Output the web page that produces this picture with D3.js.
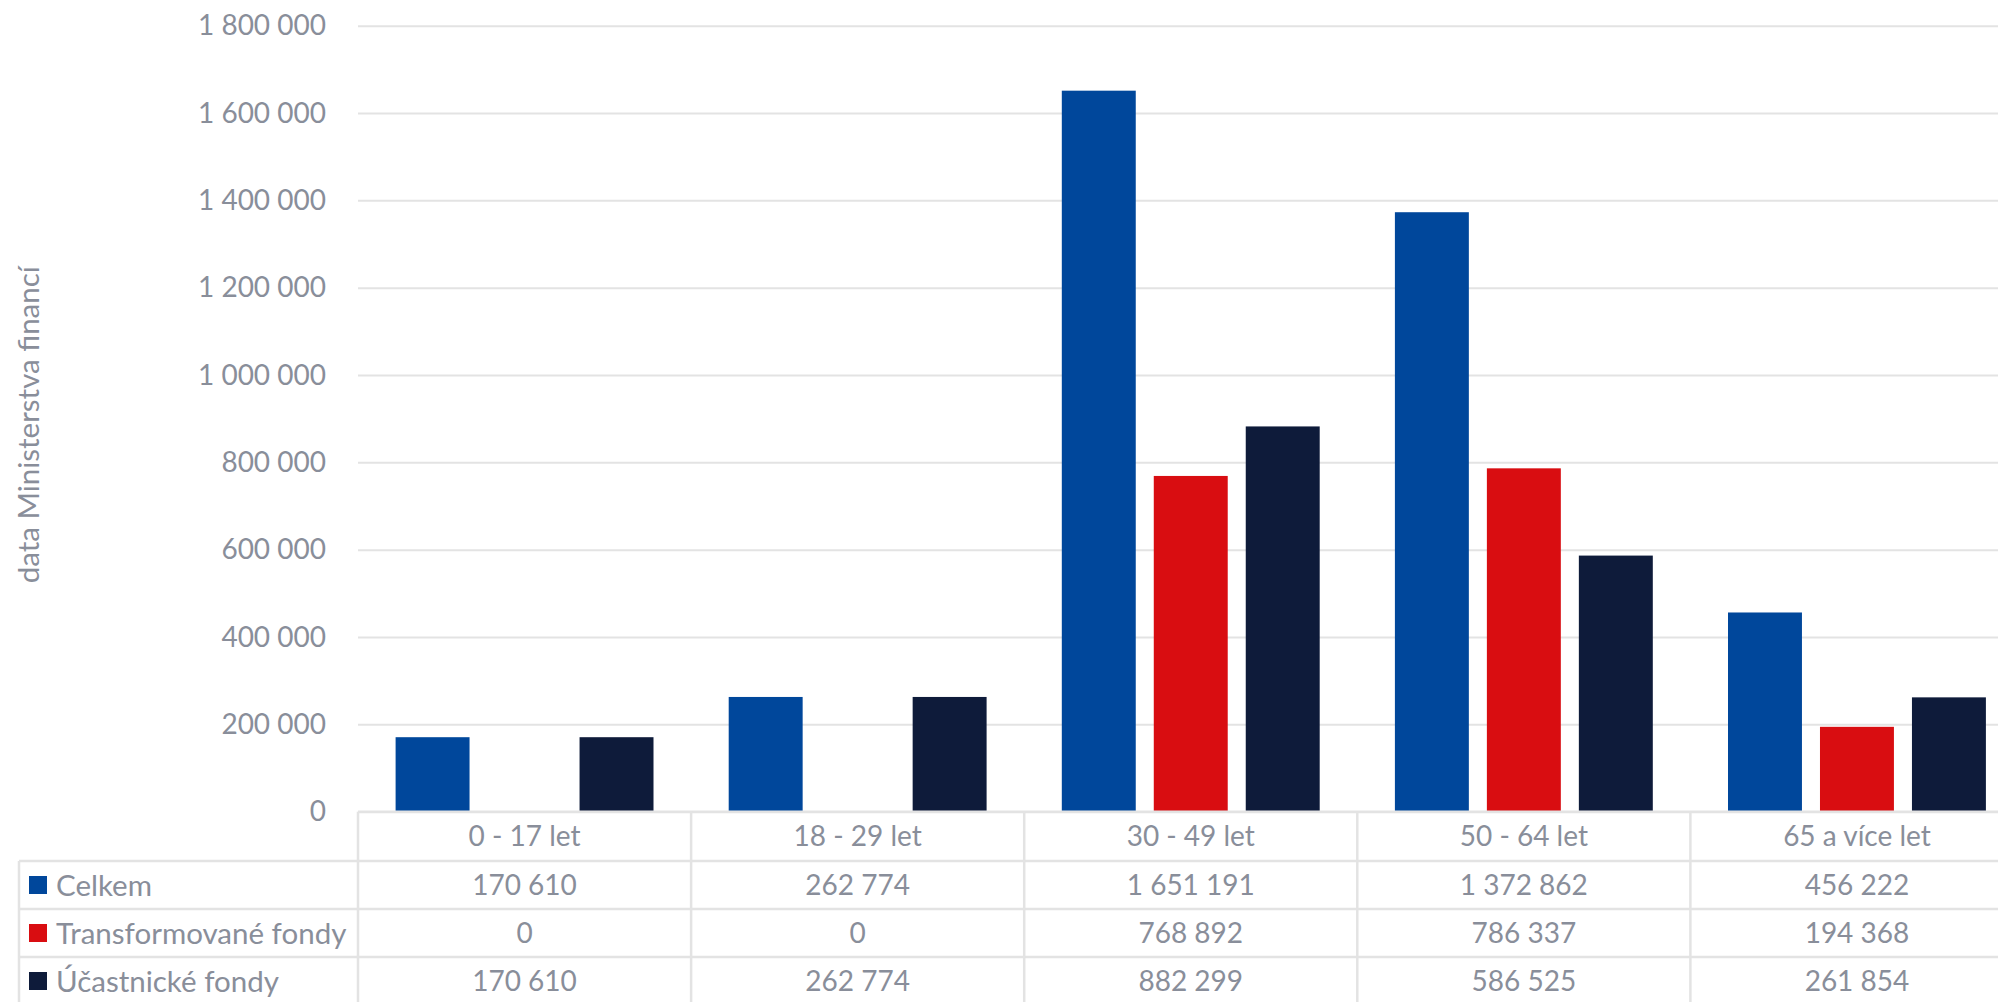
<!DOCTYPE html>
<html>
<head>
<meta charset="utf-8">
<script src="https://d3js.org/d3.v7.min.js"></script>
<style>
  body { margin: 0; background: #fff; }
  text { font-family: Lato, "Open Sans", sans-serif; fill: #898e9a; }
</style>
</head>
<body>
<div id="output"></div>
<script>
    var width = 1998;
    var height = 1002;

    var categories = ['0 - 17 let', '18 - 29 let', '30 - 49 let', '50 - 64 let', '65 a více let'];
    var seriesNames = ['Celkem', 'Transformované fondy', 'Účastnické fondy'];
    var seriesColors = ['#00479b', '#d90d11', '#0e1b3a'];
    var celkem = [170610, 262774, 1651191, 1372862, 456222];
    var transformovane = [0, 0, 768892, 786337, 194368];
    var ucastnicke = [170610, 262774, 882299, 586525, 261854];
    var yTicks = [0, 200000, 400000, 600000, 800000, 1000000, 1200000, 1400000, 1600000, 1800000];
    var yTitle = 'data Ministerstva financí';

    var series = [celkem, transformovane, ucastnicke];

    var plotLeft = 358;
    var plotTop = 25.7;
    var plotBottom = 811.7;
    var colWidth = 333.1;
    var rowH = 48;
    var tableLeft = 19;
    var gridColor = '#e3e3e3';

    var fmt = function(v) { return d3.format(',')(v).replace(/,/g, ' '); };

    var svg = d3.select('#output').append('svg')
        .attr('width', width)
        .attr('height', height);

    var x0 = d3.scaleBand()
        .domain(categories)
        .range([plotLeft, plotLeft + colWidth * categories.length]);

    var x1 = d3.scaleBand()
        .domain(d3.range(seriesNames.length))
        .range([37.6, colWidth - 37.6])
        .paddingInner(0.196);

    var y = d3.scaleLinear()
        .domain([0, 1800000])
        .range([plotBottom, plotTop]);

    // gridlines + tick labels
    var yAxis = svg.append('g')
        .attr('transform', 'translate(' + plotLeft + ',0)')
        .call(d3.axisLeft(y).tickValues(yTicks).tickFormat(fmt)
            .tickSize(-(width - plotLeft)).tickPadding(32));
    yAxis.select('.domain').remove();
    yAxis.selectAll('line').attr('stroke', gridColor).attr('stroke-width', 2);
    yAxis.selectAll('text')
        .style('font-size', '28px')
        .style('font-family', 'Lato, sans-serif')
        .attr('fill', '#898e9a');

    svg.append('text')
        .attr('transform', 'translate(29,' + ((plotTop + plotBottom) / 2 + 6) + ') rotate(-90)')
        .attr('text-anchor', 'middle')
        .attr('dy', '0.35em')
        .style('font-size', '29.5px')
        .text(yTitle);

    // bars
    series.forEach(function(vals, si) {
        svg.append('g').selectAll('rect')
            .data(vals)
            .enter().append('rect')
            .attr('x', function(d, i) { return x0(categories[i]) + x1(si); })
            .attr('y', function(d) { return y(d); })
            .attr('width', x1.bandwidth())
            .attr('height', function(d) { return plotBottom - y(d); })
            .attr('fill', seriesColors[si]);
    });

    // data table
    var table = svg.append('g');
    var lineY = [plotBottom, plotBottom + 49.3, plotBottom + 49.3 + rowH, plotBottom + 49.3 + rowH * 2, plotBottom + 49.3 + rowH * 3];

    table.selectAll('line.h')
        .data(lineY)
        .enter().append('line')
        .attr('x1', function(d, i) { return i === 0 ? plotLeft : tableLeft; })
        .attr('x2', width)
        .attr('y1', function(d) { return d; })
        .attr('y2', function(d) { return d; })
        .attr('stroke', gridColor)
        .attr('stroke-width', 2.5);

    var vx = categories.map(function(c) { return x0(c); }).concat([x0.range()[1]]);
    table.selectAll('line.v')
        .data(vx)
        .enter().append('line')
        .attr('x1', function(d) { return d; })
        .attr('x2', function(d) { return d; })
        .attr('y1', lineY[0])
        .attr('y2', height)
        .attr('stroke', gridColor)
        .attr('stroke-width', 2.5);

    table.append('line')
        .attr('x1', tableLeft).attr('x2', tableLeft)
        .attr('y1', lineY[1]).attr('y2', height)
        .attr('stroke', gridColor)
        .attr('stroke-width', 2.5);

    // header row: categories
    table.selectAll('text.cat')
        .data(categories)
        .enter().append('text')
        .attr('x', function(d) { return x0(d) + colWidth / 2; })
        .attr('y', (lineY[0] + lineY[1]) / 2)
        .attr('dy', '0.36em')
        .attr('text-anchor', 'middle')
        .style('font-size', '28px')
        .text(function(d) { return d; });

    series.forEach(function(vals, si) {
        var cy = (lineY[si + 1] + lineY[si + 2]) / 2;
        table.append('rect')
            .attr('x', 29)
            .attr('y', cy - 9)
            .attr('width', 18)
            .attr('height', 18)
            .attr('fill', seriesColors[si]);
        table.append('text')
            .attr('x', 56)
            .attr('y', cy)
            .attr('dy', '0.36em')
            .style('font-size', '29.5px')
            .text(seriesNames[si]);
        table.append('g').selectAll('text')
            .data(vals)
            .enter().append('text')
            .attr('x', function(d, i) { return x0(categories[i]) + colWidth / 2; })
            .attr('y', cy)
            .attr('dy', '0.36em')
            .attr('text-anchor', 'middle')
            .style('font-size', '28px')
            .text(function(d) { return fmt(d); });
    });
</script>
</body>
</html>
